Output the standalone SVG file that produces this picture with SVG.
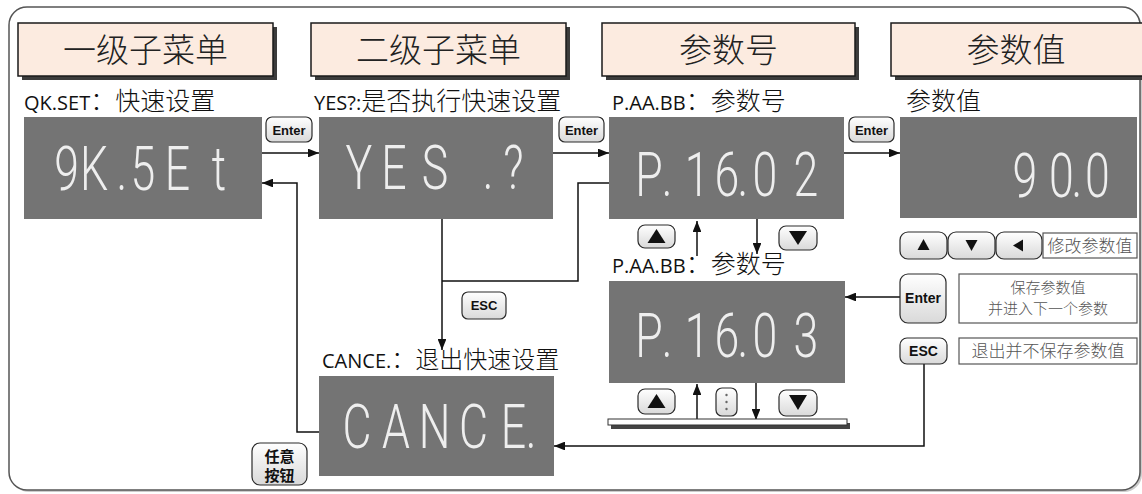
<svg xmlns="http://www.w3.org/2000/svg" width="1142" height="494" viewBox="0 0 1142 494">
<defs>
<linearGradient id="bg" x1="0" y1="0" x2="0" y2="1">
<stop offset="0" stop-color="#ffffff"/>
<stop offset="1" stop-color="#d9d9d9"/>
</linearGradient>
<marker id="ah" viewBox="0 0 10 8" refX="10" refY="4" markerWidth="11" markerHeight="8.8" markerUnits="userSpaceOnUse" orient="auto">
<path d="M0,0 L10,4 L0,8 z" fill="#111"/>
</marker>
</defs>
<style>
.frame{fill:#fff;stroke:#555;stroke-width:1.5}
.hdr{fill:#fcebe0;stroke:#1a1a1a;stroke-width:1.5}
.hsh{fill:#3c3c3c}
.htxt{font-family:"Noto Sans CJK SC",sans-serif;font-size:33px;font-weight:300;fill:#222;text-anchor:middle}
.lbl{font-family:"Open Sans","Noto Sans CJK SC",sans-serif;font-size:20px;fill:#111}
.cjk{font-family:"Noto Sans CJK SC",sans-serif;font-size:25px;font-weight:300}
.disp{fill:#747474}
.seg{font-family:Roboto,"DejaVu Sans",sans-serif;font-weight:300;font-size:62px;fill:#eeeeee;text-anchor:middle}
.btn{fill:url(#bg);stroke:#2a2a2a;stroke-width:1.2}
.btxt{font-family:"Liberation Sans",Arial,sans-serif;font-weight:bold;font-size:13px;fill:#111;text-anchor:middle}
.ln{fill:none;stroke:#111;stroke-width:1.5}
.box{fill:#fff;stroke:#555;stroke-width:1.2}
.bt{font-family:"Noto Sans CJK SC",sans-serif;font-size:16px;font-weight:300;fill:#555;text-anchor:middle}
.tri{fill:#111}
</style>

<rect x="11" y="9" width="1131" height="483" rx="18" fill="#ccc"/>
<rect class="frame" x="9" y="7" width="1131" height="483" rx="18"/>

<g id="header1">
<rect class="hsh" x="22" y="27" width="255" height="53"/>
<rect class="hdr" x="18" y="23" width="255" height="53"/>
<text class="htxt" x="145.5" y="62">一级子菜单</text>
</g>
<g id="header2">
<rect class="hsh" x="315" y="27" width="255" height="53"/>
<rect class="hdr" x="311" y="23" width="255" height="53"/>
<text class="htxt" x="438.5" y="62">二级子菜单</text>
</g>
<g id="header3">
<rect class="hsh" x="606" y="27" width="253" height="53"/>
<rect class="hdr" x="602" y="23" width="253" height="53"/>
<text class="htxt" x="728.5" y="62">参数号</text>
</g>
<g id="header4">
<rect class="hsh" x="895" y="27" width="260" height="53"/>
<rect class="hdr" x="891" y="23" width="260" height="53"/>
<text class="htxt" x="1016" y="62">参数值</text>
</g>

<g id="connectors">
<line class="ln" x1="262" y1="153" x2="319" y2="153" marker-end="url(#ah)"/>
<line class="ln" x1="553" y1="153" x2="609" y2="153" marker-end="url(#ah)"/>
<line class="ln" x1="844" y1="153" x2="900" y2="153" marker-end="url(#ah)"/>
<polyline class="ln" points="319,432 297,432 297,183 262,183" marker-end="url(#ah)"/>
<line class="ln" x1="442" y1="219" x2="442" y2="350" marker-end="url(#ah)"/>
<polyline class="ln" points="609,183 578,183 578,281 442,281"/>
<line class="ln" x1="697" y1="256" x2="697" y2="221" marker-end="url(#ah)"/>
<line class="ln" x1="757" y1="219" x2="757" y2="254" marker-end="url(#ah)"/>
<line class="ln" x1="697" y1="420" x2="697" y2="384" marker-end="url(#ah)"/>
<line class="ln" x1="756" y1="383" x2="756" y2="420" marker-end="url(#ah)"/>
<line class="ln" x1="900" y1="297" x2="845" y2="297" marker-end="url(#ah)"/>
<polyline class="ln" points="924,364 924,446 554,446" marker-end="url(#ah)"/>
</g>

<g id="qkset">
<text class="lbl" x="24" y="110">QK.SET<tspan class="cjk">：快速设置</tspan></text>
<rect class="disp" x="24" y="117" width="238" height="102"/>
<text class="seg" transform="scale(0.72,1)" x="92.4 130.6 169.4 198.6 246.5 304.2" y="190">9K.5Et</text>
</g>

<g id="yes">
<text class="lbl" x="314" y="110">YES?:<tspan class="cjk">是否执行快速设置</tspan></text>
<rect class="disp" x="319" y="117" width="234" height="102"/>
<text class="seg" transform="scale(0.72,1)" x="498.6 547.2 604.2 638.9 677.8 713.2" y="189">YES .?</text>
</g>

<g id="param1">
<text class="lbl" x="612" y="110">P.AA.BB<tspan class="cjk">：参数号</tspan></text>
<rect class="disp" x="609" y="117" width="235" height="102"/>
<text class="seg" transform="scale(0.72,1)" x="901.4 926.4 968.1 1009.7 1031.9 1062.5 1119.4" y="196">P.16.02</text>
</g>

<g id="value">
<text class="lbl" x="906" y="110"><tspan class="cjk">参数值</tspan></text>
<rect class="disp" x="900" y="117" width="237" height="101"/>
<text class="seg" transform="scale(0.72,1)" x="1423.6 1474.3 1495.8 1524.3" y="197">90.0</text>
</g>

<g id="param2">
<text class="lbl" x="612" y="273">P.AA.BB<tspan class="cjk">：参数号</tspan></text>
<rect class="disp" x="609" y="281" width="236" height="102"/>
<text class="seg" transform="scale(0.72,1)" x="901.4 926.4 968.1 1009.7 1031.9 1062.5 1119.4" y="357">P.16.03</text>
</g>

<g id="cance">
<text class="lbl" x="322" y="368">CANCE.<tspan class="cjk" style="font-size:24px">：退出快速设置</tspan></text>
<rect class="disp" x="319" y="376" width="235" height="100"/>
<text class="seg" transform="scale(0.72,1)" x="495.8 550 603.5 657.6 713.2 737.5" y="448">CANCE.</text>
</g>

<g id="enter1">
<rect class="btn" x="266" y="117" width="46" height="25" rx="6"/>
<text class="btxt" x="289" y="134.5">Enter</text>
</g>
<g id="enter2">
<rect class="btn" x="559" y="117" width="45" height="25" rx="6"/>
<text class="btxt" x="581.5" y="134.5">Enter</text>
</g>
<g id="enter3">
<rect class="btn" x="849" y="117" width="45" height="25" rx="6"/>
<text class="btxt" x="871.5" y="134.5">Enter</text>
</g>
<g id="esc-mid">
<rect class="btn" x="462" y="292" width="44" height="27" rx="6"/>
<text class="btxt" x="484" y="310">ESC</text>
</g>

<g id="up1">
<rect class="btn" x="638" y="225" width="37" height="23" rx="7"/>
<polygon class="tri" points="656.5,229 647.5,243 665.5,243"/>
</g>
<g id="down1">
<rect class="btn" x="779" y="226" width="38" height="24" rx="7"/>
<polygon class="tri" points="789,231 807,231 798,245"/>
</g>
<g id="up2">
<rect class="btn" x="638" y="389" width="37" height="25" rx="7"/>
<polygon class="tri" points="656.5,394 647.5,408 665.5,408"/>
</g>
<g id="dots">
<rect class="btn" x="716" y="388" width="21" height="28" rx="6"/>
<circle cx="726.5" cy="395" r="1.2" fill="#666"/>
<circle cx="726.5" cy="402" r="1.2" fill="#666"/>
<circle cx="726.5" cy="409" r="1.2" fill="#666"/>
</g>
<g id="down2">
<rect class="btn" x="779" y="390" width="38" height="26" rx="7"/>
<polygon class="tri" points="789,395 807,395 798,410"/>
</g>
<g id="platform">
<rect x="611" y="423" width="239" height="6" fill="#444"/>
<rect x="608" y="419" width="239" height="6" fill="#fff" stroke="#333" stroke-width="1"/>
</g>

<g id="keys-modify">
<rect class="btn" x="900" y="232" width="47" height="27" rx="8"/>
<polygon class="tri" points="923.5,239 917.5,250 929.5,250"/>
<rect class="btn" x="948" y="232" width="47" height="27" rx="8"/>
<polygon class="tri" points="965.5,240 977.5,240 971.5,251"/>
<rect class="btn" x="996" y="232" width="46" height="27" rx="8"/>
<polygon class="tri" points="1013,245.5 1023,239.5 1023,251.5"/>
<rect class="box" x="1043" y="233" width="94" height="25"/>
<text class="bt" x="1090" y="251.5" style="font-size:17px">修改参数值</text>
</g>

<g id="enter-save">
<rect class="btn" x="900" y="274" width="46" height="49" rx="8"/>
<text class="btxt" x="923" y="303" style="font-size:14px">Enter</text>
<rect class="box" x="959" y="274" width="178" height="49"/>
<text class="bt" x="1048" y="293" style="font-size:15px">保存参数值</text>
<text class="bt" x="1048" y="314" style="font-size:15px">并进入下一个参数</text>
</g>

<g id="esc-exit">
<rect class="btn" x="900" y="338" width="47" height="26" rx="7"/>
<text class="btxt" x="923.5" y="356" style="font-size:14px">ESC</text>
<rect class="box" x="959" y="338" width="178" height="26"/>
<text class="bt" x="1048" y="357" style="font-size:17px">退出并不保存参数值</text>
</g>

<g id="anykey">
<rect class="btn" x="252" y="443" width="55" height="42" rx="8"/>
<text class="bt" x="279.5" y="462" style="font-size:15px;font-weight:bold;fill:#111">任意</text>
<text class="bt" x="279.5" y="481" style="font-size:15px;font-weight:bold;fill:#111">按钮</text>
</g>
</svg>
